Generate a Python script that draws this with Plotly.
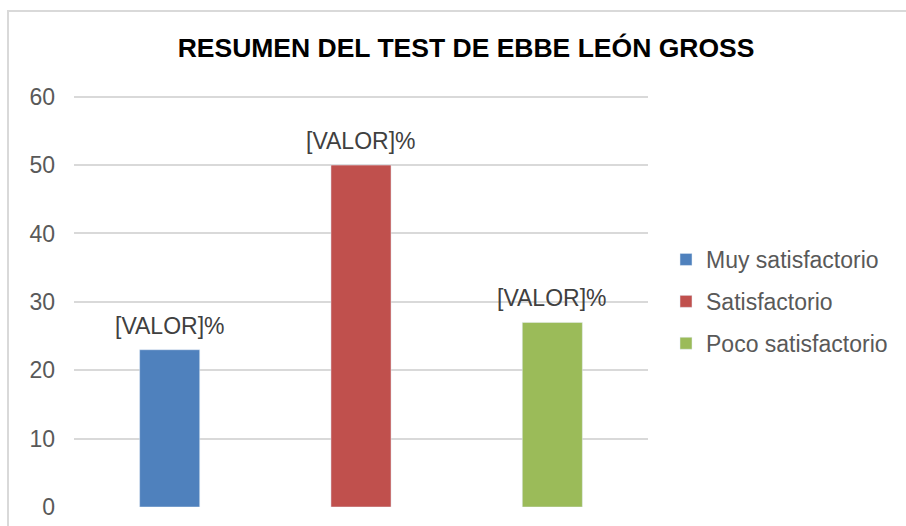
import plotly.graph_objects as go

categories = ["Muy satisfactorio", "Satisfactorio", "Poco satisfactorio"]
values = [23, 50, 27]
labels = ["[VALOR]%", "[VALOR]%", "[VALOR]%"]
colors = ["#4F81BD", "#C0504D", "#9BBB59"]
title = "RESUMEN DEL TEST DE EBBE LEÓN GROSS"
yticks = [0, 10, 20, 30, 40, 50, 60]

W, H = 906, 526
L, R, T, B = 74, 258, 94, 19
pw, ph = W - L - R, H - T - B

fig = go.Figure()
for i, (c, v, col) in enumerate(zip(categories, values, colors)):
    fig.add_trace(go.Bar(x=[c], y=[v], name=c, marker_color=col, width=0.314,
                         legendgroup=c, showlegend=True))
    fig.add_annotation(x=c, y=v, text=labels[i], showarrow=False, yanchor="bottom",
                       yshift=9, font=dict(size=23, color="#404040", family="Liberation Sans, Arial"))

fig.add_shape(type="rect", xref="paper", yref="paper",
              x0=(8 - L) / pw, x1=(W + 20 - L) / pw,
              y0=(H - B - (H + 20)) / ph, y1=(H - B - 11) / ph,
              line=dict(color="#d9d9d9", width=2), layer="below")

fig.update_layout(
    width=W, height=H,
    margin=dict(l=L, r=R, t=T, b=B, autoexpand=False),
    paper_bgcolor="white", plot_bgcolor="white",
    barmode="overlay",
    font=dict(family="Liberation Sans, Arial", size=23, color="#595959"),
    title=dict(text="<b>" + title + "</b>", x=(466 - L) / pw, xref="paper", xanchor="center",
               y=1 - 48 / H, yanchor="middle", automargin=False,
               font=dict(size=26.5, color="#000000", family="Liberation Sans, Arial")),
    xaxis=dict(categoryorder="array", categoryarray=categories, showticklabels=False,
               showgrid=False, zeroline=False, showline=False, ticks="", automargin=False),
    yaxis=dict(range=[0, 60.4], tickvals=yticks, showgrid=True, gridcolor="#d9d9d9", gridwidth=1.5,
               zeroline=False, showline=False, ticks="", ticklabelstandoff=18, automargin=False,
               tickfont=dict(size=23, color="#595959")),
    legend=dict(x=(666 - L) / pw, xanchor="left", y=(H - B - 238) / ph, yanchor="top",
                font=dict(size=23, color="#595959"), tracegroupgap=9,
                bgcolor="rgba(0,0,0,0)", itemwidth=30),
    showlegend=True,
)

fig.write_html("out.html", config={"displayModeBar": False},
               post_script="document.body.style.margin='0';document.body.style.overflow='hidden';")
